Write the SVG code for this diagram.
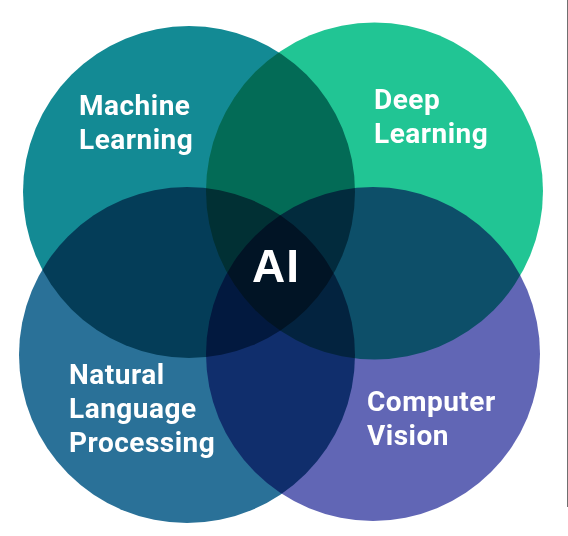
<svg xmlns="http://www.w3.org/2000/svg" width="568" height="536" viewBox="0 0 568 536">
  <style>
    .c { mix-blend-mode: multiply; }
    .t { font-family: Roboto, "Liberation Sans", sans-serif; font-weight: 700; font-size: 28px; letter-spacing: 0.5px; fill: #ffffff; }
    .ai { font-family: "Liberation Sans", Arial, sans-serif; font-weight: 700; font-size: 46px; letter-spacing: 1px; fill: #ffffff; }
  </style>
  <rect x="0" y="0" width="568" height="536" fill="#ffffff"/>
  <line x1="567.5" y1="0" x2="567.5" y2="507" stroke="#707070" stroke-width="1"/>
  <g id="venn">
    <g id="node-machine-learning">
      <circle class="c" cx="189" cy="192" r="166" fill="#138A94"/>
    </g>
    <g id="node-deep-learning">
      <circle class="c" cx="374.5" cy="191" r="168.5" fill="#21C594"/>
    </g>
    <g id="node-nlp">
      <circle class="c" cx="187" cy="355" r="168" fill="#2A7198"/>
    </g>
    <g id="node-computer-vision">
      <circle class="c" cx="373" cy="354" r="167" fill="#6166B5"/>
    </g>
  </g>
  <g id="labels">
    <g id="label-machine-learning">
      <text class="t" x="79" y="115">Machine</text>
      <text class="t" x="79" y="149">Learning</text>
    </g>
    <g id="label-deep-learning">
      <text class="t" x="374" y="109">Deep</text>
      <text class="t" x="374" y="143">Learning</text>
    </g>
    <g id="label-nlp">
      <text class="t" x="69" y="384">Natural</text>
      <text class="t" x="69" y="418">Language</text>
      <text class="t" x="69" y="452">Processing</text>
    </g>
    <g id="label-computer-vision">
      <text class="t" x="367" y="411">Computer</text>
      <text class="t" x="367" y="445">Vision</text>
    </g>
    <g id="node-ai">
      <text class="ai" x="276" y="282" text-anchor="middle">AI</text>
    </g>
  </g>
  <g id="connectors"/>
</svg>
